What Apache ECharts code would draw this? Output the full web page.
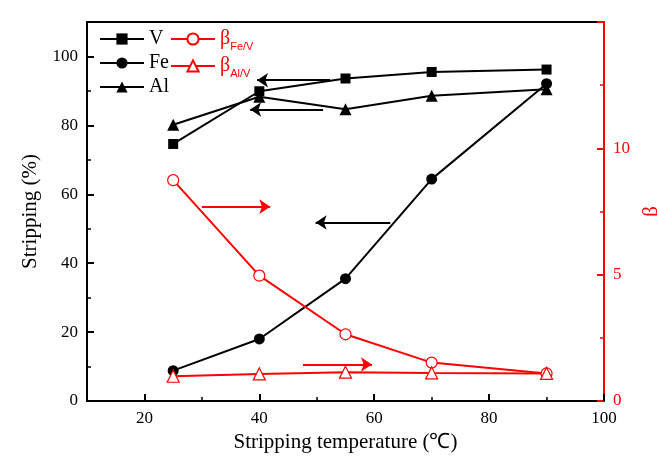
<!DOCTYPE html>
<html>
<head>
<meta charset="utf-8">
<script src="https://cdn.jsdelivr.net/npm/echarts@6/dist/echarts.min.js"></script>
<style>html,body{margin:0;padding:0;background:#fff}#c{width:657px;height:466px}</style>
</head>
<body>
<div id="c"></div>
<script>
var temps = [25, 40, 55, 70, 90];
var stripV = [74.6, 89.9, 93.6, 95.5, 96.2];
var stripFe = [8.8, 18.0, 35.5, 64.4, 92.1];
var stripAl = [80.2, 88.3, 84.7, 88.6, 90.5];
var betaFeV = [8.74, 4.96, 2.64, 1.52, 1.09];
var betaAlV = [0.98, 1.07, 1.14, 1.11, 1.09];
var xTicks = [20, 40, 60, 80, 100];
var yLeftTicks = [0, 20, 40, 60, 80, 100];
var yRightTicks = [0, 5, 10];
// arrow annotations in data units (left axis): [x1, y1, x2, y2]
var blackArrows = [[52.3, 93.1, 39.6, 93.1], [51.1, 84.6, 38.4, 84.6], [62.8, 51.8, 49.8, 51.8]];
var redArrows = [[30.0, 56.4, 41.9, 56.4], [47.6, 10.6, 59.6, 10.6]];

var FONT = 'Liberation Serif';
function pairs(xs, ys) { return xs.map(function (x, i) { return [x, ys[i]]; }); }
function arrowData(list) {
  return list.map(function (a) { return [{ coord: [a[0], a[1]] }, { coord: [a[2], a[3]] }]; });
}

var chart = echarts.init(document.getElementById('c'), null, { renderer: 'canvas' });
var axisText = { fontFamily: FONT, fontSize: 17, color: '#000' };
var option = {
  backgroundColor: '#fff',
  animation: false,
  textStyle: { fontFamily: FONT },
  grid: {
    left: 87, right: 53, top: 22, bottom: 65, containLabel: false, outerBoundsMode: 'none',
    show: true, borderColor: '#000', borderWidth: 2, backgroundColor: 'transparent'
  },
  legend: [
    {
      left: 94, top: 24, orient: 'vertical', itemWidth: 44, itemHeight: 14, itemGap: 4,
      textStyle: { fontFamily: FONT, fontSize: 20, color: '#000' },
      data: ['V', 'Fe', 'Al'], selectedMode: false
    },
    {
      left: 165, top: 24, orient: 'vertical', itemWidth: 44, itemHeight: 14, itemGap: 4,
      textStyle: {
        fontFamily: FONT, fontSize: 20, color: 'red',
        rich: {
          b: { fontFamily: FONT, fontSize: 20, color: 'red' },
          s: { fontFamily: 'Liberation Sans', fontSize: 11, color: 'red', padding: [15, 0, 0, 0] }
        }
      },
      formatter: function (n) { return n === 'bFeV' ? '{b|β}{s|Fe/V}' : '{b|β}{s|Al/V}'; },
      data: ['bFeV', 'bAlV'], selectedMode: false
    }
  ],
  xAxis: [
    {
      type: 'value', min: 10, max: 100, position: 'bottom',
      name: 'Stripping temperature (℃)', nameLocation: 'middle', nameGap: 26,
      nameTextStyle: { fontFamily: FONT, fontSize: 21, color: '#000' },
      axisLine: { show: true, lineStyle: { color: '#000', width: 2 } },
      axisTick: { show: true, inside: true, length: 7, lineStyle: { color: '#000', width: 2 }, customValues: xTicks },
      axisLabel: { show: true, margin: 9, customValues: xTicks, ...axisText },
      splitLine: { show: false }
    },
    {
      type: 'value', min: 10, max: 100, interval: 10, position: 'bottom',
      axisLine: { show: false },
      axisTick: { show: true, inside: true, length: 4, lineStyle: { color: '#000', width: 1.5 } },
      axisLabel: { show: false }, splitLine: { show: false }
    }
  ],
  yAxis: [
    {
      type: 'value', min: 0, max: 110, position: 'left',
      name: 'Stripping (%)', nameLocation: 'middle', nameGap: 46,
      nameTextStyle: { fontFamily: FONT, fontSize: 21, color: '#000' },
      axisLine: { show: true, lineStyle: { color: '#000', width: 2 } },
      axisTick: { show: true, inside: true, length: 7, lineStyle: { color: '#000', width: 2 }, customValues: yLeftTicks },
      axisLabel: { show: true, margin: 9, customValues: yLeftTicks, ...axisText },
      splitLine: { show: false }
    },
    {
      type: 'value', min: 0, max: 110, interval: 10, position: 'left',
      axisLine: { show: false },
      axisTick: { show: true, inside: true, length: 4, lineStyle: { color: '#000', width: 1.5 } },
      axisLabel: { show: false }, splitLine: { show: false }
    },
    {
      type: 'value', min: 0, max: 15, position: 'right',
      name: 'β', nameLocation: 'middle', nameGap: 37, nameRotate: 90,
      nameTextStyle: { fontFamily: FONT, fontSize: 21, color: 'red' },
      axisLine: { show: true, lineStyle: { color: 'red', width: 2 } },
      axisTick: { show: true, inside: true, length: 7, lineStyle: { color: 'red', width: 2 }, customValues: [0, 5, 10, 15] },
      axisLabel: { show: true, margin: 9, customValues: yRightTicks, fontFamily: FONT, fontSize: 17, color: 'red' },
      splitLine: { show: false }
    },
    {
      type: 'value', min: 0, max: 15, interval: 2.5, position: 'right',
      axisLine: { show: false },
      axisTick: { show: true, inside: true, length: 4, lineStyle: { color: 'red', width: 1.5 } },
      axisLabel: { show: false }, splitLine: { show: false }
    }
  ],
  series: [
    {
      name: 'V', type: 'line', yAxisIndex: 0, data: pairs(temps, stripV),
      symbol: 'rect', symbolSize: 10, lineStyle: { color: '#000', width: 2 }, itemStyle: { color: '#000' }
    },
    {
      name: 'Fe', type: 'line', yAxisIndex: 0, data: pairs(temps, stripFe),
      symbol: 'circle', symbolSize: 11, lineStyle: { color: '#000', width: 2 }, itemStyle: { color: '#000' }
    },
    {
      name: 'Al', type: 'line', yAxisIndex: 0, data: pairs(temps, stripAl),
      symbol: 'triangle', symbolSize: 12, lineStyle: { color: '#000', width: 2 }, itemStyle: { color: '#000' }
    },
    {
      name: 'bFeV', type: 'line', yAxisIndex: 2, data: pairs(temps, betaFeV),
      symbol: 'circle', symbolSize: 11, lineStyle: { color: 'red', width: 2 },
      itemStyle: { color: '#fff', borderColor: 'red', borderWidth: 1.2 }
    },
    {
      name: 'bAlV', type: 'line', yAxisIndex: 2, data: pairs(temps, betaAlV),
      symbol: 'triangle', symbolSize: 12, lineStyle: { color: 'red', width: 2 },
      itemStyle: { color: '#fff', borderColor: 'red', borderWidth: 1.2 }
    },
    {
      name: 'arrowsBlack', type: 'line', yAxisIndex: 0, data: [], silent: true,
      markLine: {
        silent: true, symbol: ['none', 'arrow'], symbolSize: 11, label: { show: false },
        lineStyle: { color: '#000', width: 2, type: 'solid' }, emphasis: { disabled: true },
        data: arrowData(blackArrows)
      }
    },
    {
      name: 'arrowsRed', type: 'line', yAxisIndex: 0, data: [], silent: true,
      markLine: {
        silent: true, symbol: ['none', 'arrow'], symbolSize: 11, label: { show: false },
        lineStyle: { color: 'red', width: 2, type: 'solid' }, emphasis: { disabled: true },
        data: arrowData(redArrows)
      }
    }
  ]
};
chart.setOption(option);
</script>
</body>
</html>
